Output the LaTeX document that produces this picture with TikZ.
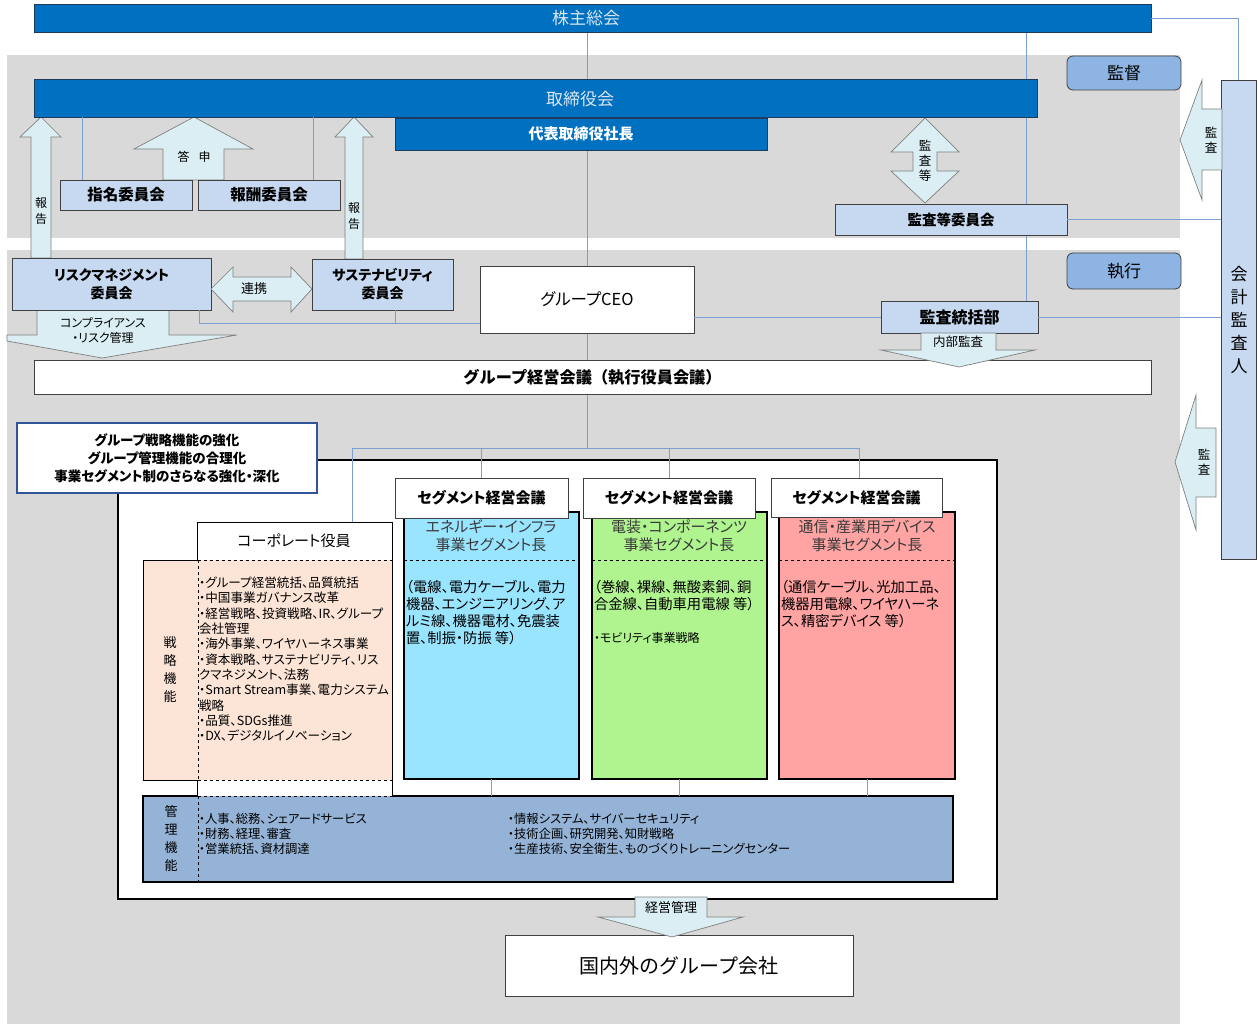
\documentclass[tikz,border=0pt]{standalone}
\usepackage{fontspec}
\setmainfont[RawFeature={+palt}]{Noto Sans CJK JP}
\newfontfamily\jpv{Noto Sans CJK JP}
\usetikzlibrary{calc}
\definecolor{bggray}{HTML}{D9D9D9}
\definecolor{barblue}{HTML}{0070C0}
\definecolor{barline}{HTML}{1F3B5C}
\definecolor{bartext}{HTML}{DCE6F2}
\definecolor{lblue}{HTML}{C6D9F1}
\definecolor{mblue}{HTML}{8DB4E2}
\definecolor{arrfill}{HTML}{DAEEF3}
\definecolor{arrline}{HTML}{7F7F7F}
\definecolor{boxline}{HTML}{404040}
\definecolor{lineblue}{HTML}{7B9FD3}
\definecolor{navy}{HTML}{2F5597}
\definecolor{peach}{HTML}{FCE4D6}
\definecolor{segcyan}{HTML}{99E5FF}
\definecolor{seggreen}{HTML}{AFF48F}
\definecolor{segpink}{HTML}{FFA3A3}
\definecolor{kanrifill}{HTML}{95B3D7}
\definecolor{segtitle}{HTML}{3A3A3A}
\pgfdeclarelayer{bg}
\pgfdeclarelayer{lines}
\pgfsetlayers{bg,lines,main}
\newcommand\jsz[2]{\fontsize{#1}{#2}\selectfont}
\begin{document}
\begin{tikzpicture}[x=1pt,y=-1pt,
  every node/.style={inner sep=0pt,outer sep=0pt},
  box/.style={rectangle,anchor=north west},
  sz/.style 2 args={minimum width=#1pt,minimum height=#2pt},
  bar/.style={box,fill=barblue,draw=barline,line width=0.8pt},
  lbox/.style={box,fill=lblue,draw=boxline,line width=0.8pt},
  wbox/.style={box,fill=white,draw=boxline,line width=0.8pt},
  rbox/.style={box,fill=mblue,draw=boxline,line width=0.8pt,rounded corners=6pt},
  arr/.style={fill=arrfill,draw=arrline,line width=0.7pt},
  conn/.style={draw=lineblue,line width=0.9pt},
  segbody/.style={box,draw=black,line width=1.3pt},
  vtxt/.style={align=center,font=\jpv\jsz{12.5}{15}},
  blk/.style={anchor=north west,align=left}
]
\useasboundingbox (0,0) rectangle (1258,1024);
\begin{pgfonlayer}{bg}
\fill[bggray] (7,55) rectangle (1180,238);
\fill[bggray] (7,250) rectangle (1180,1024);
\end{pgfonlayer}

% coordinates for connector routes
\coordinate (aline) at (1026,0);
\coordinate (sline) at (82,0);
\coordinate (hline) at (313,0);
\coordinate (rc) at (199,323);
\coordinate (sc) at (395,323);
\coordinate (jn) at (587,448);
\coordinate (jL) at (352,448);
\coordinate (jR) at (859,448);

% block arrows (behind boxes)
\draw[arr] (31,258) -- (31,137) -- (20,137) -- (41,117) -- (61,137) -- (51,137) -- (51,258) -- cycle;
\node[vtxt,font=\jpv\jsz{12}{16}] (hk1) at (41,211) {報\\告};
\draw[arr] (345,259) -- (345,137) -- (335,137) -- (354,117) -- (373,137) -- (363,137) -- (363,259) -- cycle;
\node[vtxt,font=\jpv\jsz{12}{16}] (hk2) at (354,216) {報\\告};
\draw[arr] (163,180) -- (163,149) -- (134,149) -- (194,117) -- (253,149) -- (224,149) -- (224,180) -- cycle;
\node[font=\jsz{12}{14}] (toshin) at (194,157) {答\hspace{9pt}申};
\draw[arr] (37,310) -- (169,310) -- (169,335) -- (237,335) -- (102,358) -- (7,341) -- (7,335) -- (37,335) -- cycle;
\node[align=center,font=\jsz{12}{15}] (compT) at (103,330) {コンプライアンス\\・リスク管理};

% top bars
\node[bar,sz={1117}{28}] (gm) at (34,4) {};
\node[font=\jsz{17}{20},text=bartext] (gmT) at (586,18) {株主総会};
\node[bar,sz={1003}{38}] (board) at (34,79) {};
\node[font=\jsz{17}{20},text=bartext] (boardT) at (580,99) {取締役会};
\node[bar,sz={372}{32},font=\bfseries\jsz{15}{18},text=white] (pres) at (395,118) {代表取締役社長};

\node[rbox,sz={114}{34},font=\jsz{17}{20}] (kantoku) at (1067,56) {監督};
\node[rbox,sz={114}{36},font=\jsz{17}{20}] (shikko) at (1067,253) {執行};
\node[lbox,sz={35}{479}] (kaikei) at (1221,80) {};
\node[align=center,font=\jpv\jsz{17}{23}] (kaikeiT) at (1239,320) {会\\計\\監\\査\\人};

\node[lbox,sz={132}{30},font=\bfseries\jsz{15.5}{18}] (shimei) at (60,180) {指名委員会};
\node[lbox,sz={142}{30},font=\bfseries\jsz{15.5}{18}] (houshu) at (198,180) {報酬委員会};

\draw[arr] (925,118) -- (959,152) -- (937,152) -- (937,171) -- (959,171) -- (925,203) -- (891,171) -- (913,171) -- (913,152) -- (891,152) -- cycle;
\node[vtxt] (kansatou) at (925,161) {監\\査\\等};
\node[lbox,sz={232}{31},font=\bfseries\jsz{14.5}{18}] (kansaiin) at (835,204) {監査等委員会};

\draw[arr] (1222,109) -- (1202,109) -- (1202,80) -- (1180,140) -- (1202,200) -- (1202,170) -- (1222,170) -- cycle;
\node[vtxt] (kansa1) at (1211,140) {監\\査};
\draw[arr] (1216,428) -- (1196,428) -- (1196,395) -- (1175,462) -- (1196,530) -- (1196,497) -- (1216,497) -- cycle;
\node[vtxt] (kansa2) at (1204,462) {監\\査};

% execution row
\node[lbox,sz={199}{52},font=\bfseries\jsz{14}{18},align=center] (risk) at (12,258) {リスクマネジメント\\委員会};
\draw[arr] (211,289) -- (233,267) -- (233,277) -- (291,277) -- (291,267) -- (312,289) -- (291,312) -- (291,301) -- (233,301) -- (233,312) -- cycle;
\node[font=\jsz{13}{15}] (renkei) at (254,289) {連携};
\node[lbox,sz={141}{51},font=\bfseries\jsz{14}{18},align=center] (sust) at (312,259) {サステナビリティ\\委員会};
\node[wbox,sz={214}{67},font=\jsz{16.5}{18}] (ceo) at (480,266) {グループCEO};
\node[wbox,sz={1117}{34},font=\jpv\bfseries\jsz{16.2}{18}] (keiei) at (34,360) {グループ経営会議（執行役員会議）};
\node[lbox,sz={157}{32},font=\bfseries\jsz{16}{18}] (audit) at (881,301) {監査統括部};
\draw[arr] (921,333) -- (996,333) -- (996,350) -- (1035,350) -- (959,367) -- (881,350) -- (921,350) -- cycle;
\node[font=\jsz{12.5}{15}] (naibu) at (958,342) {内部監査};

% big frame
\node[box,sz={879}{439},fill=white,draw=black,line width=1.5pt] (big) at (118,460) {};
\node[box,sz={300}{70},fill=white,draw=navy,line width=1.8pt,font=\bfseries\jsz{13.5}{18},align=center] (strat) at (17,423) {グループ戦略機能の強化\\グループ管理機能の合理化\\事業セグメント制のさらなる強化・深化};

% corporate column and strategy row
\node[box,sz={195}{275},fill=white] (corp) at (197,522) {};
\node[box,sz={249}{220},fill=peach] (senr) at (143,560) {};
\draw[line width=1pt] (197,560) -- (197,522) -- (392,522) -- (392,797);
\draw[line width=1pt] (197,780) -- (197,797);
\draw[line width=1pt] (198,560) -- (143,560) -- (143,780) -- (198,780);
\draw[dashed,line width=0.8pt] (198,560) -- (392,560) (198,780) -- (392,780) (198,560) -- (198,780);
\node[font=\jsz{15}{18}] (corpT) at (294,541) {コーポレート役員};
\node[align=center,font=\jpv\jsz{13}{18}] (senT) at (170,670) {戦\\略\\機\\能};
\node[blk,font=\jsz{12.6}{15.3}] (corpX) at (199,577) {・グループ経営統括、品質統括\\・中国事業ガバナンス改革\\・経営戦略、投資戦略、IR、グループ\\会社管理\\・海外事業、ワイヤハーネス事業\\・資本戦略、サステナビリティ、リス\\クマネジメント、法務\\・Smart Stream事業、電力システム\\戦略\\・品質、SDGs推進\\・DX、デジタルイノベーション};

% segments
\node[segbody,sz={175}{267},fill=segcyan] (s1b) at (404,512) {};
\node[segbody,sz={175}{267},fill=seggreen] (s2b) at (592,512) {};
\node[segbody,sz={176}{267},fill=segpink] (s3b) at (779,512) {};
\draw[dashed,line width=0.8pt] (404,560) -- (579,560) (592,560) -- (767,560) (779,560) -- (955,560);
\node[wbox,sz={173}{40},font=\bfseries\jsz{15}{18}] (s1h) at (395,478) {セグメント経営会議};
\node[wbox,sz={172}{40},font=\bfseries\jsz{15}{18}] (s2h) at (583,478) {セグメント経営会議};
\node[wbox,sz={171}{39},font=\bfseries\jsz{15}{18}] (s3h) at (771,478) {セグメント経営会議};
\node[align=center,font=\jsz{15}{18},text=segtitle] (s1t) at (491,536) {エネルギー・インフラ\\事業セグメント長};
\node[align=center,font=\jsz{15}{18},text=segtitle] (s2t) at (679,536) {電装・コンポーネンツ\\事業セグメント長};
\node[align=center,font=\jsz{15}{18},text=segtitle] (s3t) at (867,536) {通信・産業用デバイス\\事業セグメント長};
\node[blk,font=\jsz{14.3}{17}] (s1x) at (406,580) {（電線、電力ケーブル、電力\\機器、エンジニアリング、ア\\ルミ線、機器電材、免震装\\置、制振・防振 等）};
\node[blk,font=\jsz{14.3}{17}] (s2x) at (594,580) {（巻線、裸線、無酸素銅、銅\\合金線、自動車用電線 等）};
\node[anchor=west,font=\jsz{12}{15}] (s2y) at (594,638) {・モビリティ事業戦略};
\node[blk,font=\jsz{14.3}{17}] (s3x) at (781,580) {（通信ケーブル、光加工品、\\機器用電線、ワイヤハーネ\\ス、精密デバイス 等）};

% management row
\node[box,sz={810}{86},fill=kanrifill] (kanri) at (143,796) {};
\draw[line width=1.5pt] (198,796) -- (143,796) -- (143,882) -- (953,882) -- (953,796) -- (392,796);
\draw[dashed,line width=1pt] (198,796) -- (392,796) (198,796) -- (198,882);
\node[align=center,font=\jpv\jsz{13}{18}] (kanT) at (171,839) {管\\理\\機\\能};
\node[blk,font=\jsz{12.3}{15}] (k1) at (199,813) {・人事、総務、シェアードサービス\\・財務、経理、審査\\・営業統括、資材調達};
\node[blk,font=\jsz{12.3}{15}] (k2) at (508,813) {・情報システム、サイバーセキュリティ\\・技術企画、研究開発、知財戦略\\・生産技術、安全衛生、ものづくりトレーニングセンター};

% group companies
\node[wbox,sz={348}{61},font=\jpv\jsz{20}{22}] (group) at (505,935) {国内外のグループ会社};
\draw[arr] (635,897) -- (707,897) -- (707,917) -- (743,917) -- (672,937) -- (598,917) -- (635,917) -- cycle;
\node[font=\jsz{13}{15}] (keieikanri) at (671,908) {経営管理};

% connectors on top
\draw[conn] (gm.east) -| (kaikei.north);
\draw[conn] (shimei.north -| sline) -- (board.south -| sline);
\draw[conn] (houshu.north -| hline) -- (board.south -| hline);
\draw[conn] (kansaiin.east) -- (kansaiin.east -| kaikei.west);
\draw[conn] (audit.west -| ceo.east) -- (audit.west);
\draw[conn] (audit.east) -- (audit.east -| kaikei.west);
\draw[conn] (risk.south -| rc) -- (rc) -- (ceo.west |- sc);
\draw[conn] (sust.south -| sc) -- (sc);
\draw[conn] (jL) -- (jR);
\draw[conn] (jL) -- (jL |- corp.north);
\draw[conn] (s1h.north |- jn) -- (s1h.north);
\draw[conn] (s2h.north |- jn) -- (s2h.north);
\draw[conn] (jR) -- (jR |- s3h.north);
\draw[conn] (s1b.south) -- (s1b.south |- kanri.north);
\draw[conn] (s2b.south) -- (s2b.south |- kanri.north);
\draw[conn] (s3b.south) -- (s3b.south |- kanri.north);

% long connectors behind boxes
\begin{pgfonlayer}{lines}
\draw[conn] (gm.south -| jn) -- (jn);
\draw[conn] (gm.south -| aline) -- (audit.north -| aline);
\end{pgfonlayer}
\end{tikzpicture}
\end{document}
